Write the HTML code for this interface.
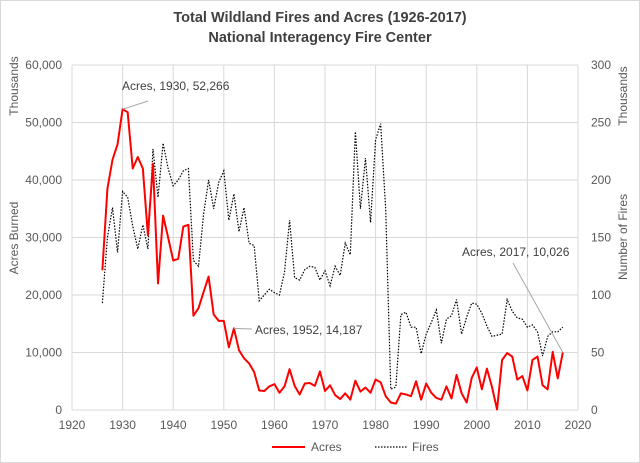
<!DOCTYPE html>
<html><head><meta charset="utf-8"><style>
body{margin:0;background:#fff}
svg{display:block;font-family:"Liberation Sans",Arial,sans-serif}
</style></head><body>
<svg id="chart" width="640" height="463" viewBox="0 0 640 463" xmlns="http://www.w3.org/2000/svg">
<rect x="0.5" y="0.5" width="639" height="462" fill="#fff" stroke="#d9d9d9"/>
<text x="320" y="22" text-anchor="middle" font-size="14.5" font-weight="bold" fill="#404040">Total Wildland Fires and Acres (1926-2017)</text>
<text x="320" y="42" text-anchor="middle" font-size="14.5" font-weight="bold" fill="#404040">National Interagency Fire Center</text>
<g id="grid"></g><g id="axes"></g><g id="series"></g><g id="notes"></g>
<text transform="translate(18,86) rotate(-90)" text-anchor="middle" font-size="12" fill="#595959">Thousands</text>
<text transform="translate(18,238) rotate(-90)" text-anchor="middle" font-size="12" fill="#595959">Acres Burned</text>
<text transform="translate(627,237) rotate(-90)" text-anchor="middle" font-size="12" fill="#595959">Number of Fires</text>
<text transform="translate(627,96) rotate(-90)" text-anchor="middle" font-size="12" fill="#595959">Thousands</text>
<g>
<line x1="272" y1="447" x2="305" y2="447" stroke="#ff0000" stroke-width="2"/>
<text x="311" y="451" font-size="12" fill="#595959">Acres</text>
<line x1="375" y1="447" x2="407" y2="447" stroke="#000" stroke-width="1.2" stroke-dasharray="1.5,1.5"/>
<text x="412" y="451" font-size="12" fill="#595959">Fires</text>
</g>
</svg>
<script>
const years=[];for(let y=1926;y<=2017;y++)years.push(y);
const acres=[24.3,38.5,43.5,46.2,52.3,51.8,42,44,42,30.4,42.8,22,33.8,30,26,26.3,31.9,32.2,16.4,17.7,20.5,23.2,16.6,15.5,15.5,10.9,14.2,10.4,9.0,8.1,6.6,3.4,3.3,4.1,4.5,3.0,4.1,7.1,4.2,2.7,4.6,4.7,4.2,6.7,3.3,4.3,2.6,1.9,2.9,1.8,5.1,3.2,3.9,3.0,5.3,4.8,2.4,1.3,1.1,2.9,2.7,2.4,5.0,1.8,4.6,3.0,2.1,1.8,4.1,2.0,6.1,2.9,1.3,5.6,7.4,3.6,7.2,4.0,0.1,8.7,9.9,9.3,5.3,5.9,3.4,8.7,9.3,4.3,3.6,10.1,5.5,10.0];
const fires=[93,150,176,137,190,185,160,140,161,140,227,185,232,210,195,200,208,210,130,125,170,200,175,198,208,165,188,155,176,145,143,95,100,105,102,100,120,165,115,113,122,125,124,113,121,108,125,117,145,135,242,175,219,163,235,249,174,18,20,83,85,72,72,49,66,76,87,58,79,82,96,66,81,93,92,84,73,64,65,66,96,86,80,79,72,74,68,47,64,68,68,72];
const xTicks=[1920,1930,1940,1950,1960,1970,1980,1990,2000,2010,2020];
const leftTicks=[0,10000,20000,30000,40000,50000,60000];
const rightTicks=[0,50,100,150,200,250,300];
const notes=[{i:4,label:"Acres, 1930, 52,266",tx:122,ty:90},{i:26,label:"Acres, 1952, 14,187",tx:255,ty:334},{i:91,label:"Acres, 2017, 10,026",tx:462,ty:256}];
const NS="http://www.w3.org/2000/svg";
const X0=72,X1=578,Y0=410,Y1=65;
const xs=y=>X0+(y-1920)/100*(X1-X0);
const yl=v=>Y0-v/60000*(Y0-Y1);
const yr=v=>Y0-v/300*(Y0-Y1);
function mk(p,t,a){const e=document.createElementNS(NS,t);for(const k in a)e.setAttribute(k,a[k]);p.appendChild(e);return e;}
const grid=document.getElementById('grid'),axes=document.getElementById('axes'),ser=document.getElementById('series'),nt=document.getElementById('notes');
xTicks.forEach(t=>{
 const l=mk(grid,'line',{x1:xs(t),x2:xs(t),y1:Y1,y2:Y0,stroke:'#d9d9d9'});
 
 
 const tx=mk(axes,'text',{x:xs(t),y:429,'text-anchor':'middle','font-size':12,fill:'#595959'});tx.textContent=t;
 
 
});
leftTicks.forEach(t=>{
 const l=mk(grid,'line',{x1:X0,x2:X1,y1:yl(t),y2:yl(t),stroke:'#d9d9d9'});
 
 
 const tx=mk(axes,'text',{x:62,y:yl(t)+4,'text-anchor':'end','font-size':12,fill:'#595959'});tx.textContent=t.toLocaleString('en-US');
 
 
});
rightTicks.forEach(t=>{
 const tx=mk(axes,'text',{x:591,y:yr(t)+4,'font-size':12,fill:'#595959'});tx.textContent=t;
 
 
});
const fp=mk(ser,'polyline',{points:years.map((y,i)=>xs(y)+','+yr(fires[i])).join(' '),fill:'none',stroke:'#000','stroke-width':1.2,'stroke-dasharray':'1.5,1.5'});


const ap=mk(ser,'polyline',{points:years.map((y,i)=>xs(y)+','+yl(acres[i]*1000)).join(' '),fill:'none',stroke:'#ff0000','stroke-width':2,'stroke-linejoin':'round'});


notes.forEach(n=>{
 const px=xs(years[n.i]),py=yl(acres[n.i]*1000);
 let lx,ly;
 if(n.i===4){lx=n.tx+26;ly=n.ty+11;}else if(n.i===26){lx=n.tx-3;ly=n.ty-5;}else{lx=n.tx+51;ly=n.ty+7;}
 const l=mk(nt,'line',{x1:lx,y1:ly,x2:px,y2:py,stroke:'#a6a6a6'});
 
 
 const t=mk(nt,'text',{x:n.tx,y:n.ty,'font-size':12,fill:'#404040'});t.textContent=n.label;
 
 
});
</script>
</body></html>
